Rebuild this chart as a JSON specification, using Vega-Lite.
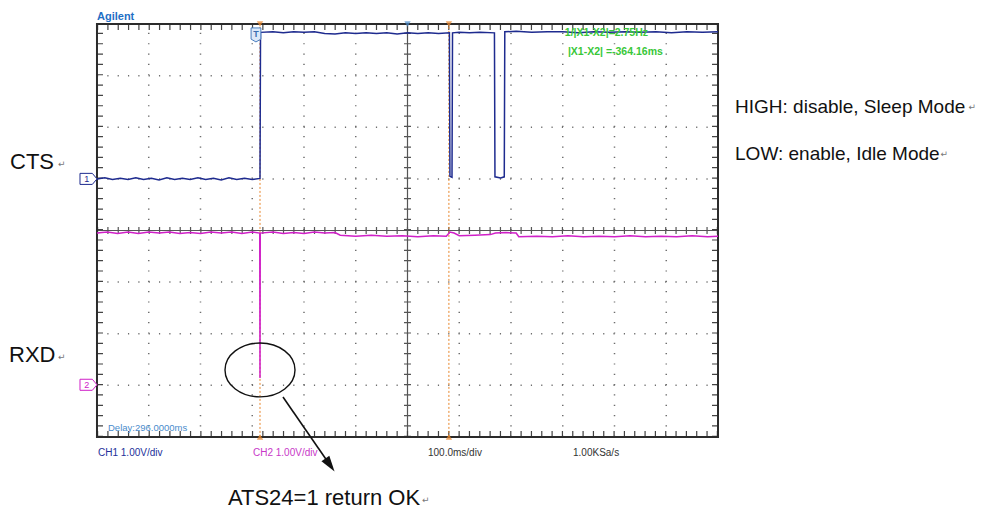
{
  "$schema": "https://vega.github.io/schema/vega-lite/v6.json",
  "width": 982,
  "height": 513,
  "autosize": {"type": "none"},
  "padding": 0,
  "background": "white",
  "config": {"view": {"stroke": null}, "font": "Liberation Sans"},
  "datasets": {
    "grid": [
      {"x": 1, "x2": 1, "y": -4, "y2": 4}, {"x": 2, "x2": 2, "y": -4, "y2": 4},
      {"x": 3, "x2": 3, "y": -4, "y2": 4}, {"x": 4, "x2": 4, "y": -4, "y2": 4},
      {"x": 5, "x2": 5, "y": -4, "y2": 4}, {"x": 7, "x2": 7, "y": -4, "y2": 4},
      {"x": 8, "x2": 8, "y": -4, "y2": 4}, {"x": 9, "x2": 9, "y": -4, "y2": 4},
      {"x": 10, "x2": 10, "y": -4, "y2": 4}, {"x": 11, "x2": 11, "y": -4, "y2": 4},
      {"x": 0, "x2": 12, "y": -3, "y2": -3}, {"x": 0, "x2": 12, "y": -2, "y2": -2},
      {"x": 0, "x2": 12, "y": -1, "y2": -1}, {"x": 0, "x2": 12, "y": 1, "y2": 1},
      {"x": 0, "x2": 12, "y": 2, "y2": 2}, {"x": 0, "x2": 12, "y": 3, "y2": 3}
    ],
    "axes": [
      {"x": 0, "x2": 12, "y": 0, "y2": 0},
      {"x": 6, "x2": 6, "y": -4, "y2": 4}
    ],
    "bticks": [
      {"x": 0, "x2": 12, "y": 3.942, "y2": 3.942},
      {"x": 0, "x2": 12, "y": -3.942, "y2": -3.942},
      {"x": 0.058, "x2": 0.058, "y": -4, "y2": 4},
      {"x": 11.942, "x2": 11.942, "y": -4, "y2": 4}
    ],
    "frame": [
      {"x": 0, "x2": 12, "y": 4, "y2": 4},
      {"x": 0, "x2": 12, "y": -4, "y2": -4},
      {"x": 0, "x2": 0, "y": -4, "y2": 4},
      {"x": 12, "x2": 12, "y": -4, "y2": 4}
    ],
    "cursors": [
      {"x": 3.15, "x2": 3.15, "y": -4, "y2": 4},
      {"x": 6.8, "x2": 6.8, "y": -4, "y2": 4}
    ],
    "traces": [
      {"ch": "CTS", "x": 0, "y": 1.0}, {"ch": "CTS", "x": 0.15, "y": 1.02}, {"ch": "CTS", "x": 0.3, "y": 0.99},
      {"ch": "CTS", "x": 0.45, "y": 1.01}, {"ch": "CTS", "x": 0.6, "y": 0.99}, {"ch": "CTS", "x": 0.75, "y": 1.02},
      {"ch": "CTS", "x": 0.9, "y": 0.99}, {"ch": "CTS", "x": 1.05, "y": 1.01}, {"ch": "CTS", "x": 1.2, "y": 0.98},
      {"ch": "CTS", "x": 1.35, "y": 1.02}, {"ch": "CTS", "x": 1.5, "y": 0.99}, {"ch": "CTS", "x": 1.65, "y": 1.01},
      {"ch": "CTS", "x": 1.8, "y": 0.99}, {"ch": "CTS", "x": 1.95, "y": 1.02}, {"ch": "CTS", "x": 2.1, "y": 0.99},
      {"ch": "CTS", "x": 2.25, "y": 1.01}, {"ch": "CTS", "x": 2.4, "y": 0.98}, {"ch": "CTS", "x": 2.55, "y": 1.02},
      {"ch": "CTS", "x": 2.7, "y": 0.99}, {"ch": "CTS", "x": 2.85, "y": 1.01}, {"ch": "CTS", "x": 3.0, "y": 0.99},
      {"ch": "CTS", "x": 3.15, "y": 1.01}, {"ch": "CTS", "x": 3.16, "y": 3.84},
      {"ch": "CTS", "x": 3.4, "y": 3.85}, {"ch": "CTS", "x": 3.6, "y": 3.83}, {"ch": "CTS", "x": 3.8, "y": 3.85},
      {"ch": "CTS", "x": 4.0, "y": 3.84}, {"ch": "CTS", "x": 4.2, "y": 3.85}, {"ch": "CTS", "x": 4.4, "y": 3.82},
      {"ch": "CTS", "x": 4.6, "y": 3.81}, {"ch": "CTS", "x": 4.8, "y": 3.83}, {"ch": "CTS", "x": 5.0, "y": 3.82},
      {"ch": "CTS", "x": 5.2, "y": 3.83}, {"ch": "CTS", "x": 5.4, "y": 3.82}, {"ch": "CTS", "x": 5.6, "y": 3.83},
      {"ch": "CTS", "x": 5.8, "y": 3.81}, {"ch": "CTS", "x": 6.0, "y": 3.83}, {"ch": "CTS", "x": 6.2, "y": 3.82},
      {"ch": "CTS", "x": 6.4, "y": 3.83}, {"ch": "CTS", "x": 6.6, "y": 3.82}, {"ch": "CTS", "x": 6.81, "y": 3.83},
      {"ch": "CTS", "x": 6.82, "y": 1.05}, {"ch": "CTS", "x": 6.86, "y": 1.03}, {"ch": "CTS", "x": 6.87, "y": 3.83},
      {"ch": "CTS", "x": 7.0, "y": 3.84}, {"ch": "CTS", "x": 7.2, "y": 3.83}, {"ch": "CTS", "x": 7.4, "y": 3.84},
      {"ch": "CTS", "x": 7.68, "y": 3.83}, {"ch": "CTS", "x": 7.69, "y": 1.04}, {"ch": "CTS", "x": 7.8, "y": 1.02},
      {"ch": "CTS", "x": 7.87, "y": 1.04}, {"ch": "CTS", "x": 7.88, "y": 3.85}, {"ch": "CTS", "x": 8.1, "y": 3.86},
      {"ch": "CTS", "x": 8.4, "y": 3.84}, {"ch": "CTS", "x": 8.7, "y": 3.85}, {"ch": "CTS", "x": 9.0, "y": 3.85},
      {"ch": "CTS", "x": 9.3, "y": 3.83}, {"ch": "CTS", "x": 9.6, "y": 3.85}, {"ch": "CTS", "x": 9.9, "y": 3.84},
      {"ch": "CTS", "x": 10.2, "y": 3.85}, {"ch": "CTS", "x": 10.5, "y": 3.84}, {"ch": "CTS", "x": 10.8, "y": 3.85},
      {"ch": "CTS", "x": 11.1, "y": 3.83}, {"ch": "CTS", "x": 11.4, "y": 3.85}, {"ch": "CTS", "x": 11.7, "y": 3.84},
      {"ch": "CTS", "x": 12, "y": 3.85},
      {"ch": "RXD", "x": 0, "y": -0.05}, {"ch": "RXD", "x": 0.2, "y": -0.03}, {"ch": "RXD", "x": 0.4, "y": -0.06},
      {"ch": "RXD", "x": 0.6, "y": -0.03}, {"ch": "RXD", "x": 0.8, "y": -0.06}, {"ch": "RXD", "x": 1.0, "y": -0.03},
      {"ch": "RXD", "x": 1.2, "y": -0.05}, {"ch": "RXD", "x": 1.4, "y": -0.03}, {"ch": "RXD", "x": 1.6, "y": -0.06},
      {"ch": "RXD", "x": 1.8, "y": -0.04}, {"ch": "RXD", "x": 2.0, "y": -0.06}, {"ch": "RXD", "x": 2.2, "y": -0.03},
      {"ch": "RXD", "x": 2.4, "y": -0.05}, {"ch": "RXD", "x": 2.6, "y": -0.03}, {"ch": "RXD", "x": 2.8, "y": -0.06},
      {"ch": "RXD", "x": 3.0, "y": -0.03}, {"ch": "RXD", "x": 3.145, "y": -0.05}, {"ch": "RXD", "x": 3.15, "y": -2.86},
      {"ch": "RXD", "x": 3.155, "y": -0.05}, {"ch": "RXD", "x": 3.4, "y": -0.03},
      {"ch": "RXD", "x": 3.6, "y": -0.06}, {"ch": "RXD", "x": 3.8, "y": -0.04}, {"ch": "RXD", "x": 4.0, "y": -0.06},
      {"ch": "RXD", "x": 4.2, "y": -0.03}, {"ch": "RXD", "x": 4.4, "y": -0.05}, {"ch": "RXD", "x": 4.6, "y": -0.04},
      {"ch": "RXD", "x": 4.7, "y": -0.09}, {"ch": "RXD", "x": 5.0, "y": -0.11}, {"ch": "RXD", "x": 5.3, "y": -0.09},
      {"ch": "RXD", "x": 5.6, "y": -0.11}, {"ch": "RXD", "x": 5.9, "y": -0.1}, {"ch": "RXD", "x": 6.2, "y": -0.12},
      {"ch": "RXD", "x": 6.5, "y": -0.1}, {"ch": "RXD", "x": 6.75, "y": -0.11}, {"ch": "RXD", "x": 6.82, "y": -0.03},
      {"ch": "RXD", "x": 6.9, "y": -0.05}, {"ch": "RXD", "x": 7.0, "y": -0.1}, {"ch": "RXD", "x": 7.3, "y": -0.09},
      {"ch": "RXD", "x": 7.6, "y": -0.08}, {"ch": "RXD", "x": 7.7, "y": -0.05}, {"ch": "RXD", "x": 7.9, "y": -0.04},
      {"ch": "RXD", "x": 8.1, "y": -0.05}, {"ch": "RXD", "x": 8.15, "y": -0.12}, {"ch": "RXD", "x": 8.5, "y": -0.11},
      {"ch": "RXD", "x": 8.8, "y": -0.12}, {"ch": "RXD", "x": 9.1, "y": -0.1}, {"ch": "RXD", "x": 9.4, "y": -0.12},
      {"ch": "RXD", "x": 9.7, "y": -0.11}, {"ch": "RXD", "x": 10.0, "y": -0.12}, {"ch": "RXD", "x": 10.3, "y": -0.1},
      {"ch": "RXD", "x": 10.6, "y": -0.12}, {"ch": "RXD", "x": 10.9, "y": -0.11}, {"ch": "RXD", "x": 11.2, "y": -0.12},
      {"ch": "RXD", "x": 11.5, "y": -0.1}, {"ch": "RXD", "x": 11.8, "y": -0.12}, {"ch": "RXD", "x": 12, "y": -0.11}
    ]
  },
  "encoding": {
    "x": {"field": "x", "type": "quantitative", "scale": {"domain": [-1.874, 17.101], "nice": false, "zero": false}, "axis": null},
    "y": {"field": "y", "type": "quantitative", "scale": {"domain": [-5.475, 4.467], "nice": false, "zero": false}, "axis": null}
  },
  "layer": [
    {
      "data": {"name": "grid"},
      "mark": {"type": "rule", "color": "#6e6e6e", "strokeWidth": 1.5, "strokeDash": [1.2, 9.13]},
      "encoding": {"x2": {"field": "x2"}, "y2": {"field": "y2"}}
    },
    {
      "data": {"name": "axes"},
      "mark": {"type": "rule", "color": "#555555", "strokeWidth": 1.2},
      "encoding": {"x2": {"field": "x2"}, "y2": {"field": "y2"}}
    },
    {
      "data": {"name": "axes"},
      "mark": {"type": "rule", "color": "#555555", "strokeWidth": 7, "strokeDash": [1.2, 9.13]},
      "encoding": {"x2": {"field": "x2"}, "y2": {"field": "y2"}}
    },
    {
      "data": {"name": "bticks"},
      "mark": {"type": "rule", "color": "#444444", "strokeWidth": 6, "strokeDash": [1.2, 9.13]},
      "encoding": {"x2": {"field": "x2"}, "y2": {"field": "y2"}}
    },
    {
      "data": {"name": "frame"},
      "mark": {"type": "rule", "color": "#2b2b2b", "strokeWidth": 2, "strokeCap": "square"},
      "encoding": {"x2": {"field": "x2"}, "y2": {"field": "y2"}}
    },
    {
      "data": {"name": "cursors"},
      "mark": {"type": "rule", "color": "#e8852a", "strokeWidth": 1, "strokeDash": [2, 2]},
      "encoding": {"x2": {"field": "x2"}, "y2": {"field": "y2"}}
    },
    {
      "data": {"name": "traces"},
      "mark": {"type": "line", "strokeWidth": 1.5, "interpolate": "linear"},
      "encoding": {
        "color": {"field": "ch", "type": "nominal", "scale": {"domain": ["CTS", "RXD"], "range": ["#1e2b8f", "#d020c8"]}, "legend": null}
      }
    },
    {
      "data": {"values": [{"x": 3.15, "y": 4.0}, {"x": 6.8, "y": 4.0}]},
      "mark": {"type": "point", "shape": "triangle-down", "filled": true, "color": "#e8852a", "size": 40}
    },
    {
      "data": {"values": [{"x": 3.15, "y": -4.0}, {"x": 6.8, "y": -4.0}]},
      "mark": {"type": "point", "shape": "triangle-up", "filled": true, "color": "#e8852a", "size": 40}
    },
    {
      "data": {"values": [{"x": 6, "y": 4.0}]},
      "mark": {"type": "point", "shape": "triangle-down", "filled": true, "color": "#4a8ccc", "size": 40}
    },
    {
      "data": {"values": [{"x": 3.072, "y": 3.79}]},
      "mark": {"type": "point", "shape": "M-0.7,-1L0.7,-1L0.7,0.6L0,1L-0.7,0.6Z", "filled": true, "fill": "#dbe8f8", "stroke": "#4a7fc0", "strokeWidth": 1, "size": 196, "opacity": 1}
    },
    {
      "data": {"values": [{"x": 3.072, "y": 3.79, "t": "T"}]},
      "mark": {"type": "text", "color": "#3a6fb0", "fontSize": 9, "fontWeight": "bold", "align": "center", "baseline": "middle", "dy": -1},
      "encoding": {"text": {"field": "t"}}
    },
    {
      "data": {"values": [{"x": -0.164, "y": 1.0}]},
      "mark": {"type": "point", "shape": "M-1,-0.65L0.45,-0.65L1,0L0.45,0.65L-1,0.65Z", "filled": true, "fill": "white", "stroke": "#1e2b8f", "strokeWidth": 1, "size": 289, "opacity": 1}
    },
    {
      "data": {"values": [{"x": -0.164, "y": -2.99}]},
      "mark": {"type": "point", "shape": "M-1,-0.65L0.45,-0.65L1,0L0.45,0.65L-1,0.65Z", "filled": true, "fill": "white", "stroke": "#d020c8", "strokeWidth": 1, "size": 289, "opacity": 1}
    },
    {
      "data": {"values": [{"x": -0.2, "y": 1.0, "t": "1"}]},
      "mark": {"type": "text", "color": "#1e2b8f", "fontSize": 9, "align": "center", "baseline": "middle"},
      "encoding": {"text": {"field": "t"}}
    },
    {
      "data": {"values": [{"x": -0.2, "y": -2.99, "t": "2"}]},
      "mark": {"type": "text", "color": "#d020c8", "fontSize": 9, "align": "center", "baseline": "middle"},
      "encoding": {"text": {"field": "t"}}
    },
    {
      "data": {"values": [{"x": 3.15, "y": -2.703}]},
      "mark": {"type": "point", "shape": "M-1,0A1,0.77,0,1,0,1,0A1,0.77,0,1,0,-1,0Z", "filled": false, "stroke": "#111111", "strokeWidth": 1.4, "size": 4900, "opacity": 1}
    },
    {
      "data": {"values": [{"x": 3.594, "y": -3.227, "x2": 4.502, "y2": -4.545}]},
      "mark": {"type": "rule", "color": "#111111", "strokeWidth": 1.6},
      "encoding": {"x2": {"field": "x2"}, "y2": {"field": "y2"}}
    },
    {
      "data": {"values": [{"x": 4.502, "y": -4.545}]},
      "mark": {"type": "point", "shape": "M-0.6,-1L0.6,-1L0,1Z", "filled": true, "color": "#111111", "size": 256, "angle": 325, "opacity": 1}
    },
    {
      "data": {"values": [{"x": 0, "y": 4.08, "t": "Agilent"}]},
      "mark": {"type": "text", "color": "#1f6fc5", "fontSize": 11, "fontWeight": "bold", "align": "left", "baseline": "alphabetic"},
      "encoding": {"text": {"field": "t"}}
    },
    {
      "data": {"values": [{"x": 9.04, "y": 3.77, "t": "1/|X1-X2|=2.75Hz"}, {"x": 9.1, "y": 3.4, "t": "|X1-X2|  =-364.16ms"}]},
      "mark": {"type": "text", "color": "#39c739", "fontSize": 10.5, "fontWeight": "bold", "align": "left", "baseline": "alphabetic"},
      "encoding": {"text": {"field": "t"}}
    },
    {
      "data": {"values": [{"x": 0.213, "y": -3.886, "t": "Delay:296.0000ms"}]},
      "mark": {"type": "text", "color": "#4a8ccc", "fontSize": 9.5, "align": "left", "baseline": "alphabetic"},
      "encoding": {"text": {"field": "t"}}
    },
    {
      "data": {"values": [{"x": 0.02, "y": -4.37, "t": "CH1 1.00V/div"}]},
      "mark": {"type": "text", "color": "#23309a", "fontSize": 10, "align": "left", "baseline": "alphabetic"},
      "encoding": {"text": {"field": "t"}}
    },
    {
      "data": {"values": [{"x": 3.014, "y": -4.37, "t": "CH2 1.00V/div"}]},
      "mark": {"type": "text", "color": "#c838c8", "fontSize": 10, "align": "left", "baseline": "alphabetic"},
      "encoding": {"text": {"field": "t"}}
    },
    {
      "data": {"values": [{"x": 6.396, "y": -4.37, "t": "100.0ms/div"}, {"x": 9.198, "y": -4.37, "t": "1.00KSa/s"}]},
      "mark": {"type": "text", "color": "#333333", "fontSize": 10, "align": "left", "baseline": "alphabetic"},
      "encoding": {"text": {"field": "t"}}
    },
    {
      "data": {"values": [{"x": -1.681, "y": 1.192, "t": "CTS"}, {"x": -1.7, "y": -2.548, "t": "RXD"}, {"x": 2.531, "y": -5.32, "t": "ATS24=1 return OK"}]},
      "mark": {"type": "text", "color": "#111111", "fontSize": 22, "align": "left", "baseline": "alphabetic"},
      "encoding": {"text": {"field": "t"}}
    },
    {
      "data": {"values": [{"x": 12.329, "y": 2.277, "t": "HIGH: disable, Sleep Mode"}, {"x": 12.329, "y": 1.366, "t": "LOW: enable, Idle Mode"}]},
      "mark": {"type": "text", "color": "#111111", "fontSize": 19, "align": "left", "baseline": "alphabetic"},
      "encoding": {"text": {"field": "t"}}
    },
    {
      "data": {"values": [{"x": -0.754, "y": 1.23, "t": "↵"}, {"x": -0.754, "y": -2.51, "t": "↵"}, {"x": 16.84, "y": 2.335, "t": "↵"}, {"x": 16.3, "y": 1.424, "t": "↵"}, {"x": 6.28, "y": -5.281, "t": "↵"}]},
      "mark": {"type": "text", "color": "#777777", "fontSize": 9, "font": "DejaVu Sans", "align": "left", "baseline": "alphabetic"},
      "encoding": {"text": {"field": "t"}}
    }
  ]
}
